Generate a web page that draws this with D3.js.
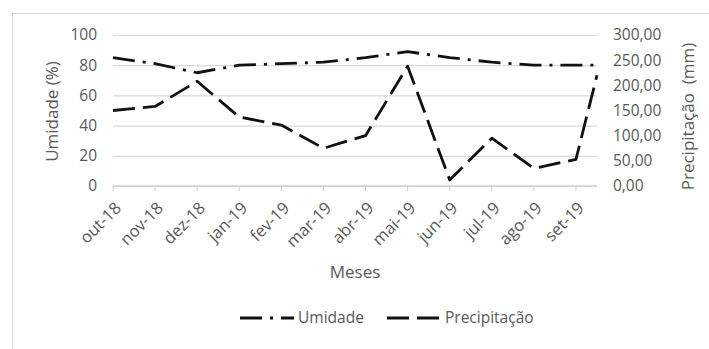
<!DOCTYPE html>
<html>
<head>
<meta charset="utf-8">
<script src="https://cdn.jsdelivr.net/npm/d3@7"></script>
<style>
  html, body { margin: 0; padding: 0; background: #fff; }
  svg { display: block; }
  text { font-family: "Open Sans", "Liberation Sans", sans-serif; fill: #595959; }
</style>
</head>
<body>
<svg id="chart" width="709" height="349"></svg>
<script>
// Monthly categories (Oct 2018 – Sep 2019)
const months = ["out-18", "nov-18", "dez-18", "jan-19", "fev-19", "mar-19",
                "abr-19", "mai-19", "jun-19", "jul-19", "ago-19", "set-19"];
// Relative humidity (%); the final reading closes the line at the plot's right edge
const umidade = [85, 81, 75, 80, 81, 82, 85, 89, 85, 82, 80, 80, 80];
// Rainfall (mm); the final reading closes the line at the plot's right edge
const precipitacao = [150, 158, 208, 137, 121, 75, 100, 238, 12, 95, 35, 53, 220];
// Axis ticks
const ticksUmidade = [0, 20, 40, 60, 80, 100];
const ticksPrecip = [0, 50, 100, 150, 200, 250, 300];

const svg = d3.select("#chart");
const plot = { left: 113, right: 597, top: 35, bottom: 186 };

// Chart-area frame
svg.append("rect")
  .attr("x", 12.5).attr("y", 13.5)
  .attr("width", 710).attr("height", 345)
  .attr("fill", "#fff").attr("stroke", "#d9d9d9").attr("stroke-width", 1);

const x = d3.scaleLinear()
  .domain([0, months.length - 0.5])
  .range([plot.left, plot.right]);
const xAt = i => x(Math.min(i, months.length - 0.5));

const yL = d3.scaleLinear().domain([0, 100]).range([plot.bottom, plot.top]);
const yR = d3.scaleLinear().domain([0, 300]).range([plot.bottom, plot.top]);

// Horizontal gridlines
svg.append("g")
  .attr("transform", `translate(${plot.left},0)`)
  .call(d3.axisLeft(yL).tickValues(ticksUmidade).tickSize(-(plot.right - plot.left)).tickFormat(""))
  .call(g => g.select(".domain").remove())
  .call(g => g.selectAll("line").attr("stroke", "#d9d9d9").attr("stroke-width", 1.2));

// Category axis line and tick marks
svg.append("line")
  .attr("x1", plot.left).attr("x2", plot.right)
  .attr("y1", yL(0)).attr("y2", yL(0))
  .attr("stroke", "#d0d0d0").attr("stroke-width", 1.3);
svg.append("g")
  .selectAll("line")
  .data(months)
  .join("line")
  .attr("x1", (d, i) => x(i)).attr("x2", (d, i) => x(i))
  .attr("y1", yL(0)).attr("y2", yL(0) + 5)
  .attr("stroke", "#d0d0d0").attr("stroke-width", 1);

// Category labels, rotated
svg.append("g")
  .selectAll("text")
  .data(months)
  .join("text")
  .attr("transform", (d, i) => `translate(${x(i) + 5},${plot.bottom + 19}) rotate(-45)`)
  .attr("text-anchor", "end")
  .attr("dy", "0.35em")
  .attr("font-size", 16.5)
  .text(d => d);

// Left value axis
svg.append("g")
  .attr("transform", `translate(${plot.left},0)`)
  .call(d3.axisLeft(yL).tickValues(ticksUmidade).tickSize(0).tickPadding(16))
  .call(g => g.select(".domain").remove())
  .call(g => g.selectAll("text")
    .attr("font-size", 15.5).attr("fill", "#595959")
    .attr("font-family", "'Open Sans', sans-serif"));

// Right value axis
const fmt = d => d.toFixed(2).replace(".", ",");
svg.append("g")
  .attr("transform", `translate(${plot.right},0)`)
  .call(d3.axisRight(yR).tickValues(ticksPrecip).tickSize(0).tickPadding(16).tickFormat(fmt))
  .call(g => g.select(".domain").remove())
  .call(g => g.selectAll("text")
    .attr("font-size", 15.5).attr("fill", "#595959")
    .attr("font-family", "'Open Sans', sans-serif"));

// Axis titles
svg.append("text")
  .attr("transform", `translate(52,${(plot.top + plot.bottom) / 2 + 1}) rotate(-90)`)
  .attr("text-anchor", "middle").attr("dy", "0.35em")
  .attr("font-size", 17)
  .text("Umidade (%)");
svg.append("text")
  .attr("transform", `translate(688,${(plot.top + plot.bottom) / 2 + 6}) rotate(-90)`)
  .attr("text-anchor", "middle").attr("dy", "0.35em")
  .attr("font-size", 17)
  .attr("xml:space", "preserve")
  .text("Precipitação  (mm)");
svg.append("text")
  .attr("x", 355).attr("y", 272)
  .attr("text-anchor", "middle").attr("dy", "0.35em")
  .attr("font-size", 17)
  .text("Meses");

// Series lines
const dashUmidade = "22,8,3,8";
const dashPrecip = "22,8";

const lineL = d3.line().x((d, i) => xAt(i)).y(d => yL(d));
const lineR = d3.line().x((d, i) => xAt(i)).y(d => yR(d));

svg.append("path")
  .datum(precipitacao)
  .attr("d", lineR)
  .attr("fill", "none").attr("stroke", "#111")
  .attr("stroke-width", 2.8).attr("stroke-dasharray", dashPrecip)
  .attr("stroke-linejoin", "round");

svg.append("path")
  .datum(umidade)
  .attr("d", lineL)
  .attr("fill", "none").attr("stroke", "#111")
  .attr("stroke-width", 2.8).attr("stroke-dasharray", dashUmidade)
  .attr("stroke-linejoin", "round");

// Legend
const legend = [
  { name: "Umidade", dash: dashUmidade, x: 240 },
  { name: "Precipitação", dash: dashPrecip, x: 387 }
];
const lg = svg.append("g").attr("transform", "translate(0,318)");
lg.selectAll("line")
  .data(legend)
  .join("line")
  .attr("x1", d => d.x).attr("x2", d => d.x + 54)
  .attr("y1", 0).attr("y2", 0)
  .attr("stroke", "#111").attr("stroke-width", 2.8)
  .attr("stroke-dasharray", d => d.dash);
lg.selectAll("text")
  .data(legend)
  .join("text")
  .attr("x", d => d.x + 58).attr("y", 0)
  .attr("dy", "0.35em")
  .attr("font-size", 15.5)
  .text(d => d.name);
</script>
</body>
</html>
